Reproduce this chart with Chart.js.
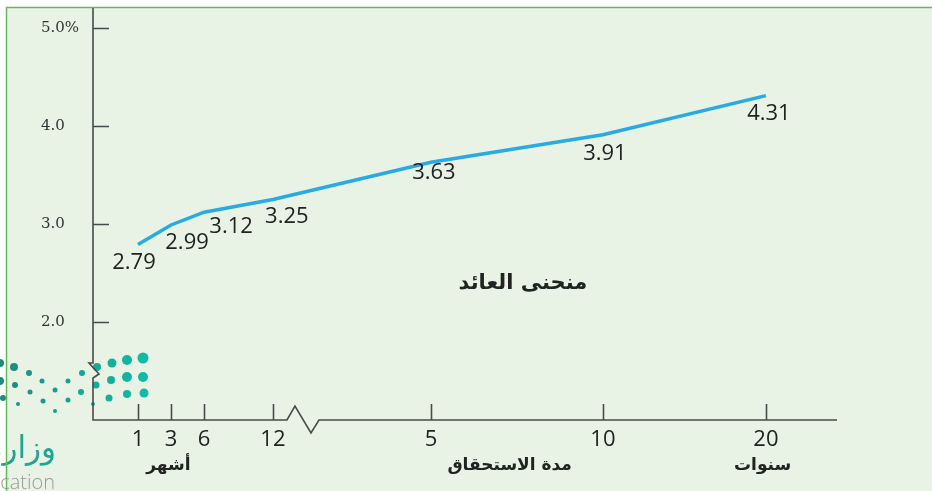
<!DOCTYPE html>
<html>
<head>
<meta charset="utf-8">
<script src="https://cdn.jsdelivr.net/npm/chart.js@4"></script>
<style>
  html, body { margin: 0; padding: 0; background: #fff; }
  #yieldChart { display: block; }
</style>
</head>
<body>
<canvas id="yieldChart" width="932" height="491"></canvas>
<script>
// maturities: 1, 3, 6, 12 months then 5, 10, 20 years
const maturityLabels = ['1', '3', '6', '12', '5', '10', '20'];
// where each maturity sits on the (non-uniform) drawn axis
const maturityAxisValue = [1.36, 2.36, 3.36, 5.44, 10.22, 15.42, 20.35];
const yieldValues = [2.79, 2.99, 3.12, 3.25, 3.63, 3.91, 4.31];
const yTickValues = [2, 3, 4, 5];
const yTickLabels = ['2.0', '3.0', '4.0', '5.0%'];

const axisColor = '#4a4a4a';
const labelFont = '"Open Sans", sans-serif';
const arabicFont = '"DejaVu Sans", sans-serif';

// label offset from each point (px)
const labelOffsets = [[-4, 18], [16, 18], [27, 14], [14, 17], [3, 10], [2, 19], [3, 18]];

const dots = [
  [0, 363, 4], [0, 381, 4], [3, 398, 3],
  [14, 367, 4], [15, 385, 3], [18, 404, 2],
  [29, 373, 3], [30, 392, 2.5], [43, 401, 2.5],
  [42, 381, 2.5], [55, 390, 2.5], [55, 411, 2],
  [68, 381, 2.5], [68, 400, 2.5],
  [82, 373, 3], [81, 392, 3], [93, 404, 2],
  [97, 367, 4], [96, 385, 3.5], [109, 398, 3.5],
  [112, 363, 4.5], [111, 380, 4], [127, 394, 4],
  [127, 360, 5], [127, 377, 5], [144, 393, 4.5],
  [143, 358, 5.5], [143, 377, 5]
];

const backdrop = {
  id: 'backdrop',
  beforeDraw(chart) {
    const ctx = chart.ctx;
    ctx.save();
    ctx.fillStyle = '#ffffff';
    ctx.fillRect(0, 0, chart.width, chart.height);
    ctx.fillStyle = '#e9f3e5';
    ctx.fillRect(6, 7, chart.width - 6, chart.height - 7);

    // logo watermark
    dots.forEach(([x, y, r]) => {
      const t = Math.min(1, x / 144);
      const g = Math.round(0x8c + t * (0xba - 0x8c));
      const b = Math.round(0x7e + t * (0xa6 - 0x7e));
      ctx.fillStyle = 'rgb(' + Math.round(0x1c - t * 0x0c) + ',' + g + ',' + b + ')';
      ctx.beginPath();
      ctx.arc(x, y, r, 0, Math.PI * 2);
      ctx.fill();
    });
    ctx.fillStyle = '#1ea596';
    ctx.font = '31px ' + arabicFont;
    ctx.textAlign = 'right';
    ctx.textBaseline = 'alphabetic';
    ctx.fillText('وزارة', 56, 458);
    ctx.fillStyle = '#9a9a9a';
    ctx.font = '300 20px ' + labelFont;
    ctx.fillText('Education', 55, 489);

    ctx.strokeStyle = '#5fbd55';
    ctx.lineWidth = 1.5;
    ctx.beginPath();
    ctx.moveTo(6.5, chart.height);
    ctx.lineTo(6.5, 7.5);
    ctx.lineTo(chart.width, 7.5);
    ctx.stroke();
    ctx.restore();
  }
};

const axesAndText = {
  id: 'axesAndText',
  beforeDatasetsDraw(chart) {
    const ctx = chart.ctx;
    const xs = chart.scales.x, ys = chart.scales.y;
    const left = xs.left, bottom = ys.bottom, right = xs.right;
    ctx.save();
    ctx.strokeStyle = axisColor;
    ctx.lineWidth = 1.6;
    ctx.lineJoin = 'miter';

    // y axis with small break
    ctx.beginPath();
    ctx.moveTo(left, 8);
    ctx.lineTo(left, 363);
    ctx.lineTo(left - 4, 363);
    ctx.lineTo(left + 6, 374);
    ctx.lineTo(left, 378);
    ctx.lineTo(left, bottom);
    // x axis with break between months and years
    const bx = xs.getPixelForValue(6.35);
    ctx.lineTo(bx - 16, bottom);
    ctx.lineTo(bx - 8, bottom - 14);
    ctx.lineTo(bx + 8, bottom + 13);
    ctx.lineTo(bx + 16, bottom);
    ctx.lineTo(right, bottom);
    ctx.stroke();

    // inward tick marks
    ctx.beginPath();
    yTickValues.forEach(v => {
      const y = Math.round(ys.getPixelForValue(v)) + 0.5;
      ctx.moveTo(left, y);
      ctx.lineTo(left + 16, y);
    });
    maturityAxisValue.forEach(v => {
      const x = Math.round(xs.getPixelForValue(v)) + 0.5;
      ctx.moveTo(x, bottom);
      ctx.lineTo(x, bottom - 16);
    });
    ctx.stroke();

    // captions
    ctx.fillStyle = '#222';
    ctx.textAlign = 'center';
    ctx.textBaseline = 'middle';
    ctx.font = 'bold 17px ' + arabicFont;
    ctx.fillText('أشهر', xs.getPixelForValue(2.28), 466);
    ctx.fillText('مدة الاستحقاق', xs.getPixelForValue(12.6), 466);
    ctx.fillText('سنوات', xs.getPixelForValue(20.25), 466);
    ctx.font = 'bold 21px ' + arabicFont;
    ctx.fillText('منحنى العائد', xs.getPixelForValue(13.0), 284);
    ctx.restore();
  },
  afterDatasetsDraw(chart) {
    const ctx = chart.ctx;
    const pts = chart.getDatasetMeta(0).data;
    ctx.save();
    ctx.fillStyle = '#222';
    ctx.font = '22px ' + labelFont;
    ctx.textAlign = 'center';
    ctx.textBaseline = 'middle';
    pts.forEach((p, i) => {
      const [dx, dy] = labelOffsets[i];
      ctx.fillText(yieldValues[i].toFixed(2), p.x + dx, p.y + dy);
    });
    ctx.restore();
  }
};

new Chart(document.getElementById('yieldChart'), {
  type: 'line',
  data: {
    datasets: [{
      data: maturityAxisValue.map((x, i) => ({ x: x, y: yieldValues[i] })),
      borderColor: '#29aae2',
      borderWidth: 3.5,
      pointRadius: 0,
      tension: 0,
      fill: false
    }]
  },
  options: {
    responsive: false,
    maintainAspectRatio: false,
    animation: false,
    layout: { padding: { left: 41, right: 95, top: 28, bottom: 0 } },
    plugins: {
      legend: { display: false },
      tooltip: { enabled: false }
    },
    scales: {
      x: {
        type: 'linear',
        min: 0,
        max: 22.5,
        grid: { display: false, drawTicks: false },
        border: { display: false },
        afterBuildTicks: s => { s.ticks = maturityAxisValue.map(v => ({ value: v })); },
        afterFit: s => { s.height = 71; },
        ticks: {
          autoSkip: false,
          maxRotation: 0,
          padding: 7,
          color: '#222',
          font: { family: labelFont, size: 22 },
          callback: (v, i) => maturityLabels[i]
        }
      },
      y: {
        min: 1,
        max: 5,
        grid: { display: false, drawTicks: false },
        border: { display: false },
        afterBuildTicks: s => { s.ticks = yTickValues.map(v => ({ value: v })); },
        afterFit: s => { s.width = 52; },
        ticks: {
          crossAlign: 'far',
          color: '#333',
          font: { family: '"DejaVu Serif", serif', size: 15 },
          callback: (v, i) => yTickLabels[i]
        }
      }
    }
  },
  plugins: [backdrop, axesAndText]
});
</script>
</body>
</html>
